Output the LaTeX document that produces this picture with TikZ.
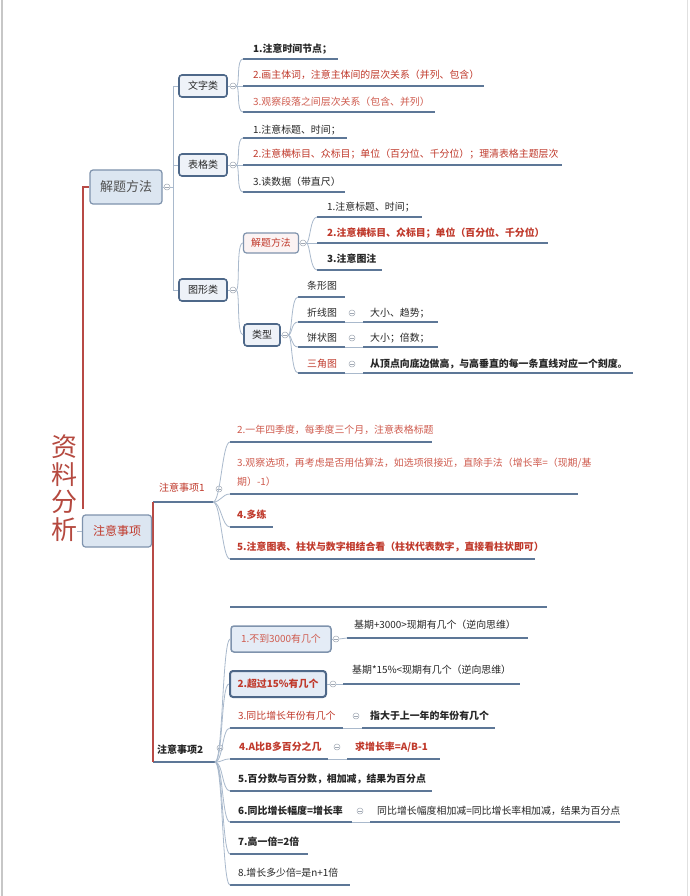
\documentclass[tikz,border=0pt]{standalone}
\usepackage{fontspec}
\setmainfont{Noto Sans CJK SC}
\definecolor{tblack}{HTML}{262626}
\definecolor{tred}{HTML}{C0392B}
\definecolor{tlred}{HTML}{CF5B4E}
\definecolor{tgrey}{HTML}{505050}
\definecolor{ulc}{HTML}{5D7797}
\definecolor{cnc}{HTML}{A9B9CC}
\definecolor{mkc}{HTML}{A0A8B4}
\definecolor{bxb}{HTML}{7F93AD}
\definecolor{bxf}{HTML}{DCE6F1}
\definecolor{dbxb}{HTML}{4E6889}
\definecolor{dbxf}{HTML}{EEF2F8}
\definecolor{pkf}{HTML}{FBF3F3}
\definecolor{cbf}{HTML}{E4ECF6}
\definecolor{redlc}{HTML}{B84A45}
\definecolor{rootc}{HTML}{B5493F}
\newcommand{\UL}[4]{\coordinate (#1a) at (#2,#4); \coordinate (#1b) at (#3,#4); \draw[ul] (#1a) -- (#1b);}
\tikzset{
  txt/.style={anchor=west, inner sep=0pt, font=\fontsize{9.9}{11.5}\selectfont, text=tblack},
  rd/.style={text=tred},
  lrd/.style={text=tlred},
  bf/.style={font=\fontsize{9.9}{11.5}\selectfont\bfseries},
  ul/.style={draw=ulc, line width=2.3pt},
  conn/.style={draw=cnc, line width=0.8pt},
  redl/.style={draw=redlc, line width=2.8pt},
  mk/.style={circle, draw=mkc, fill=white, line width=0.5pt, minimum size=6pt, inner sep=0pt,
    path picture={\draw[mkc, line width=0.5pt] ([xshift=-1.6pt]path picture bounding box.center) -- ([xshift=1.6pt]path picture bounding box.center);}},
  bx/.style={rounded corners=3pt, draw=bxb, fill=bxf, line width=1.2pt, inner sep=0pt},
  dbx/.style={rounded corners=3pt, draw=dbxb, fill=dbxf, line width=1.6pt, inner sep=0pt, font=\fontsize{10}{12}\selectfont, text=tblack},
  br/.style={out=0, in=180, out distance=4pt, in distance=7pt},
  brw/.style={out=0, in=180, out distance=8pt, in distance=8pt},
}
\begin{document}
\begin{tikzpicture}[x=1pt,y=-1pt]
\useasboundingbox (0,0) rectangle (690,896);
\fill[white] (0,0) rectangle (690,896);
\draw[draw=black!22, line width=2pt] (2,0) -- (2,896);
\draw[draw=black!12, line width=1pt] (687,0) -- (687,896);

% ---------- root ----------
\node[font=\fontsize{26}{27.5}\selectfont, text=rootc, align=center, inner sep=0pt] (root) at (64,488) {资\\料\\分\\析};

% ---------- 解题方法 ----------
\node[bx, minimum width=72pt, minimum height=34pt, font=\fontsize{13}{15}\selectfont, text=tgrey] (A) at (126,187) {解题方法};
\coordinate (rj) at (83,509);
\draw[redl] (rj) |- (A.west);
\node[mk] (mA) at (167,187) {};
\coordinate (jA) at (173,187);
\draw[conn] (A.east) -- (mA.west);
\draw[conn] (mA.east) -- (jA);
\node[dbx, minimum width=48pt, minimum height=22pt] (wz) at (203,86) {文字类};
\node[dbx, minimum width=48pt, minimum height=22pt] (bg) at (203,165) {表格类};
\node[dbx, minimum width=48pt, minimum height=22pt] (tx) at (203,290) {图形类};
\draw[conn] (jA) |- (wz.west);
\draw[conn] (jA) |- (bg.west);
\draw[conn] (jA) |- (tx.west);
\node[mk] (mwz) at (233,86) {};
\node[mk] (mbg) at (233,165) {};
\node[mk] (mtx) at (233,290) {};
\draw[conn] (wz.east) -- (mwz.west);
\draw[conn] (bg.east) -- (mbg.west);
\draw[conn] (tx.east) -- (mtx.west);

% 文字类 leaves
\UL{w1}{243}{338}{59}
\UL{w2}{243}{484}{86}
\UL{w3}{243}{435}{112}
\node[txt,bf] (w1t) at (253,49) {1.注意时间节点；};
\node[txt,rd] (w2t) at (253,75) {2.画主体词，注意主体间的层次关系（并列、包含）};
\node[txt,lrd] (w3t) at (253,102) {3.观察段落之间层次关系（包含、并列）};
\draw[conn] (mwz.east) to[br] (w1a);
\draw[conn] (mwz.east) -- (w2a);
\draw[conn] (mwz.east) to[br] (w3a);

% 表格类 leaves
\UL{g1}{243}{347}{138}
\UL{g2}{243}{562}{165}
\UL{g3}{243}{345}{192}
\node[txt] (g1t) at (253,130) {1.注意标题、时间；};
\node[txt,rd] (g2t) at (253,154) {2.注意横标目、众标目；单位（百分位、千分位）；理清表格主题层次};
\node[txt] (g3t) at (253,182) {3.读数据（带直尺）};
\draw[conn] (mbg.east) to[br] (g1a);
\draw[conn] (mbg.east) -- (g2a);
\draw[conn] (mbg.east) to[br] (g3a);

% 图形类 children
\node[bx, fill=pkf, minimum width=55pt, minimum height=20pt, font=\fontsize{9.9}{11.5}\selectfont, text=tred] (s1) at (271,243) {解题方法};
\node[dbx, minimum width=36pt, minimum height=22pt] (s2) at (262,335) {类型};
\draw[conn] (mtx.east) to[br] (s1.west);
\draw[conn] (mtx.east) to[br] (s2.west);
\node[mk] (ms1) at (303,243) {};
\node[mk] (ms2) at (285,335) {};
\draw[conn] (s1.east) -- (ms1.west);
\draw[conn] (s2.east) -- (ms2.west);

\UL{p1}{317}{422}{217}
\UL{p2}{317}{548}{243}
\UL{p3}{317}{382}{270}
\node[txt] (p1t) at (327,207) {1.注意标题、时间；};
\node[txt,bf,rd] (p2t) at (327,233) {2.注意横标目、众标目；单位（百分位、千分位）};
\node[txt,bf] (p3t) at (327,259) {3.注意图注};
\draw[conn] (ms1.east) to[br] (p1a);
\draw[conn] (ms1.east) -- (p2a);
\draw[conn] (ms1.east) to[br] (p3a);

\UL{q1}{298}{345}{297}
\UL{q2}{298}{345}{322}
\UL{q3}{298}{345}{347}
\UL{q4}{298}{345}{373}
\node[txt] (q1t) at (307,286) {条形图};
\node[txt] (q2t) at (307,313) {折线图};
\node[txt] (q3t) at (307,338) {饼状图};
\node[txt,rd] (q4t) at (307,364) {三角图};
\draw[conn] (ms2.east) to[br] (q1a);
\draw[conn] (ms2.east) to[br] (q2a);
\draw[conn] (ms2.east) to[br] (q3a);
\draw[conn] (ms2.east) to[br] (q4a);
\node[mk] (mq2) at (352,313) {};
\node[mk] (mq3) at (352,338) {};
\node[mk] (mq4) at (352,364) {};
\UL{r2}{363}{438}{322}
\UL{r3}{363}{438}{347}
\UL{r4}{363}{633}{373}
\draw[conn] (q2b) -- (r2a);
\draw[conn] (q3b) -- (r3a);
\draw[conn] (q4b) -- (r4a);
\node[txt] (r2t) at (370,313) {大小、趋势；};
\node[txt] (r3t) at (370,338) {大小；倍数；};
\node[txt,bf] (r4t) at (370,364) {从顶点向底边做高，与高垂直的每一条直线对应一个刻度。};

% ---------- 注意事项 ----------
\UL{n1}{153}{213}{502}
\UL{n2}{153}{215}{762}
\draw[redl] (n1a) -- (n2a);
\node[bx, minimum width=69pt, minimum height=32pt, font=\fontsize{12}{14}\selectfont, text=tred] (B) at (117,531) {注意事项};
\draw[conn] (root.east |- B.west) -- (B.west);
\node[txt,rd,font=\fontsize{10}{12}\selectfont] (n1t) at (159,488) {注意事项1};
\node[txt,font=\fontsize{10}{12}\selectfont\bfseries] (n2t) at (157,750) {注意事项2};
\node[mk] (mn1) at (219,489) {};
\node[mk] (mn2) at (220,748) {};

% 注意事项1 leaves
\UL{k1}{230}{432}{442}
\UL{k2}{230}{578}{494}
\UL{k3}{230}{273}{527}
\UL{k4}{230}{535}{559}
\node[txt,lrd] (k1t) at (237,430) {2.一年四季度，每季度三个月，注意表格标题};
\node[txt,lrd,align=left,font=\fontsize{9.9}{19}\selectfont] (k2t) at (237,472.5) {3.观察选项，再考虑是否用估算法，如选项很接近，直除手法（增长率=（现期/基\\期）-1）};
\node[txt,bf,rd] (k3t) at (237,515) {4.多练};
\node[txt,bf,rd] (k4t) at (237,547) {5.注意图表、柱状与数字相结合看（柱状代表数字，直接看柱状即可）};
\draw[conn] (n1b) to[brw] (k1a);
\draw[conn] (n1b) to[brw] (k2a);
\draw[conn] (n1b) to[brw] (k3a);
\draw[conn] (n1b) to[brw] (k4a);

% 注意事项2 leaves
\UL{t0}{230}{547}{607}
\node[bx, fill=cbf, line width=1.5pt, minimum width=100pt, minimum height=26pt, font=\fontsize{9.9}{11.5}\selectfont, text=tlred] (c1) at (281,639) {1.不到3000有几个};
\node[dbx, fill=cbf, line width=2pt, minimum width=96pt, minimum height=26pt, font=\fontsize{9.9}{11.5}\selectfont\bfseries, text=tred] (c2) at (278,684) {2.超过15\%有几个};
\node[mk] (mc1) at (336,639) {};
\node[mk] (mc2) at (333,684) {};
\draw[conn] (c1.east) -- (mc1.west);
\draw[conn] (c2.east) -- (mc2.west);
\UL{c1u}{347}{528}{638}
\UL{c2u}{343}{520}{684}
\draw[conn] (mc1.east) -- (c1ua);
\draw[conn] (mc2.east) -- (c2ua);
\node[txt] (c1t) at (354,625) {基期+3000>现期有几个（逆向思维）};
\node[txt] (c2t) at (352,670) {基期*15\%<现期有几个（逆向思维）};

\UL{i3}{230}{343}{728}
\UL{i4}{230}{328}{759}
\UL{i5}{230}{432}{791}
\UL{i6}{230}{352}{822}
\UL{i7}{230}{308}{854}
\UL{i8}{230}{350}{885}
\node[txt,rd] (i3t) at (238,716) {3.同比增长年份有几个};
\node[txt,bf,rd] (i4t) at (239,747) {4.A比B多百分之几};
\node[txt,bf] (i5t) at (238,779) {5.百分数与百分数，相加减，结果为百分点};
\node[txt,bf] (i6t) at (238,811) {6.同比增长幅度=增长率};
\node[txt,bf] (i7t) at (238,842) {7.高一倍=2倍};
\node[txt] (i8t) at (238,873) {8.增长多少倍=是n+1倍};

\node[mk] (mi3) at (356,716) {};
\node[mk] (mi4) at (337,747) {};
\node[mk] (mi6) at (360,811) {};
\UL{i3c}{362}{495}{728}
\UL{i4c}{347}{440}{759}
\UL{i6c}{370}{620}{822}
\draw[conn] (i3b) -- (i3ca);
\draw[conn] (i4b) -- (i4ca);
\draw[conn] (i6b) -- (i6ca);
\node[txt,bf] (i3ct) at (370,716) {指大于上一年的年份有几个};
\node[txt,bf,rd] (i4ct) at (355,747) {求增长率=A/B-1};
\node[txt] (i6ct) at (377,811) {同比增长幅度相加减=同比增长率相加减，结果为百分点};

\draw[conn] (n2b) to[brw] (c1.west);
\draw[conn] (n2b) to[brw] (c2.west);
\draw[conn] (n2b) to[brw] (i3a);
\draw[conn] (n2b) to[brw] (i4a);
\draw[conn] (n2b) to[brw] (i5a);
\draw[conn] (n2b) to[brw] (i6a);
\draw[conn] (n2b) to[brw] (i7a);
\draw[conn] (n2b) to[brw] (i8a);
\end{tikzpicture}
\end{document}
